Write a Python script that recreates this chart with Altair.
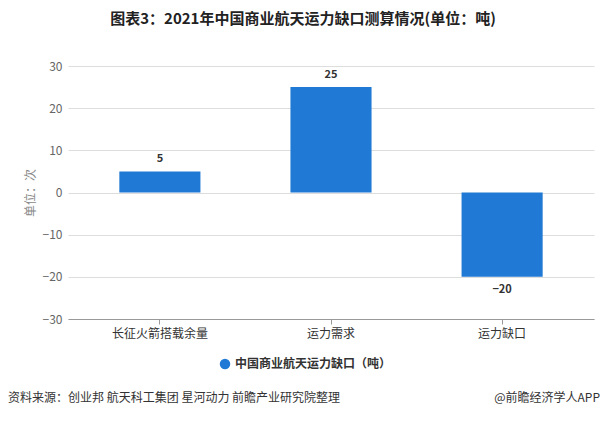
import altair as alt
import pandas as pd

categories = ["长征火箭搭载余量", "运力需求", "运力缺口"]
values = [5, 25, -20]
series_name = "中国商业航天运力缺口（吨）"
y_ticks = [-30, -20, -10, 0, 10, 20, 30]

title_text = "图表3：2021年中国商业航天运力缺口测算情况(单位：吨)"
source_text = "资料来源：创业邦 航天科工集团 星河动力 前瞻产业研究院整理"
brand_text = "@前瞻经济学人APP"

FONT = "Noto Sans CJK SC"

df = pd.DataFrame({"cat": categories, "val": values, "series": [series_name] * len(values)})
df["label"] = df["val"].apply(lambda v: str(v).replace("-", "\u2212"))

x_scale = alt.Scale(paddingInner=0.526, paddingOuter=0.3)
x_axis = alt.Axis(labelAngle=0, labelFontSize=12, labelColor="#333333", labelFont=FONT,
                  domainColor="#999999", tickColor="#999999", tickSize=5,
                  labelPadding=4, grid=False)
y_scale = alt.Scale(domain=[-30, 30], nice=False)
y_axis = alt.Axis(values=y_ticks, labelFontSize=12, labelColor="#666666", labelFont=FONT,
                  titleFont=FONT, titleFontSize=12, titleFontWeight="normal",
                  titleColor="#888888", titlePadding=5,
                  gridColor="#dddddd", domain=False, ticks=False, labelPadding=6)

x_enc = alt.X("cat:N", sort=categories, title=None, scale=x_scale, axis=x_axis)
y_enc = alt.Y("val:Q", scale=y_scale, title="单位：次", axis=y_axis)

bars = alt.Chart(df).mark_bar(color="#2079d4").encode(
    x=x_enc,
    y=y_enc,
    color=alt.Color("series:N", scale=alt.Scale(range=["#2079d4"]),
                    legend=alt.Legend(title=None, orient="none", legendX=151, legendY=292,
                                      symbolType="circle", symbolSize=110,
                                      labelFont=FONT, labelFontSize=12, labelFontWeight="bold",
                                      labelColor="#333333")),
)

pos_labels = alt.Chart(df).transform_filter("datum.val >= 0").mark_text(
    dy=-12, font=FONT, fontSize=11, fontWeight="bold", color="#333333").encode(
    x=x_enc, y=y_enc, text="label:N")
neg_labels = alt.Chart(df).transform_filter("datum.val < 0").mark_text(
    dy=13, font=FONT, fontSize=11, fontWeight="bold", color="#333333").encode(
    x=x_enc, y=y_enc, text="label:N")

foot_df = pd.DataFrame({"t": [source_text]})
source = alt.Chart(foot_df).mark_text(align="left", baseline="middle", font=FONT, fontSize=12,
                                       color="#333333").encode(
    x=alt.value(-60), y=alt.value(332), text="t:N")
brand_df = pd.DataFrame({"t": [brand_text]})
brand = alt.Chart(brand_df).mark_text(align="right", baseline="middle", font=FONT, fontSize=12,
                                      color="#333333").encode(
    x=alt.value(532), y=alt.value(332), text="t:N")

chart = alt.layer(bars, pos_labels, neg_labels, source, brand).properties(
    width=526, height=253,
    background="white",
    title=alt.TitleParams(title_text, font=FONT, fontSize=15, fontWeight="bold", color="#222222",
                          anchor="middle", dx=-28, offset=33),
    autosize=alt.AutoSizeParams(type="none"),
    padding={"left": 68, "top": 66, "right": 11, "bottom": 103},
).configure_view(stroke="transparent", strokeWidth=0, strokeOpacity=0).configure_axisY(
    domain=False, ticks=False
).configure_axisX(grid=False)

chart.save("out.html", embed_options={"renderer": "svg", "actions": False})
